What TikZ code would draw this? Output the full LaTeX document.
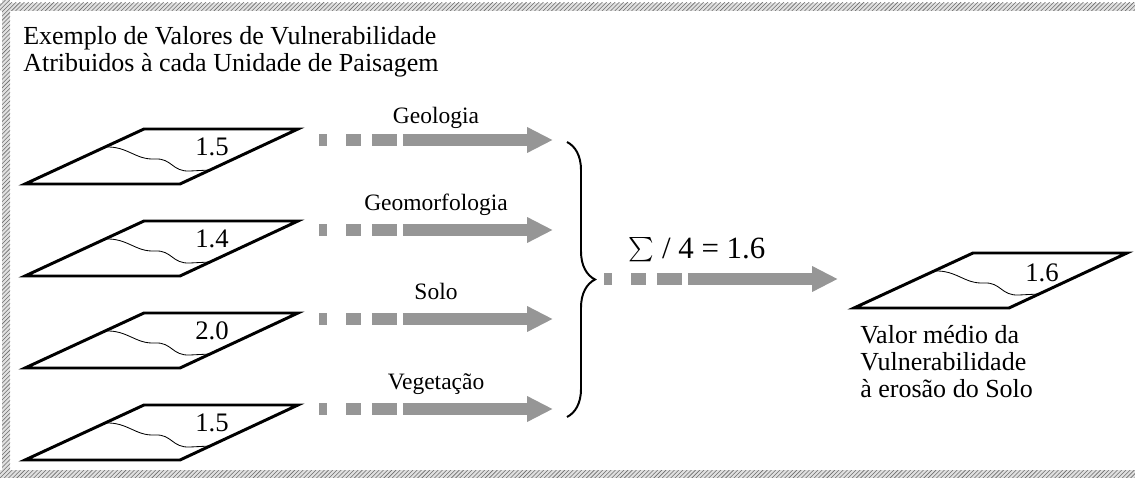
\documentclass[tikz,border=0pt]{standalone}
\usepackage{amsmath}
\usepackage{fontspec}
\setmainfont{Liberation Serif}
\usetikzlibrary{arrows.meta,decorations.pathreplacing,patterns}
\definecolor{cinza}{RGB}{150,150,150}
\definecolor{hachura}{RGB}{110,110,110}

\begin{document}
\begin{tikzpicture}[
  x=0.025cm, y=-0.025cm,
  moldura/.style={fill=black!12, postaction={pattern=north east lines, pattern color=hachura}},
  plano/.style={draw=black, line width=2.1pt},
  rio/.style={draw=black, line width=0.6pt},
  valor/.style={font=\fontsize{19}{22}\selectfont, inner sep=0pt},
  texto/.style={font=\fontsize{18.5}{21}\selectfont, anchor=base west, inner sep=0pt},
  rotulo/.style={font=\fontsize{16.7}{19}\selectfont, anchor=base, yshift=14pt, inner sep=0pt},
  flecha/.style={draw=cinza, line width=8.5pt,
    dash pattern=on 5.7pt off 13.5pt on 10.6pt off 7.8pt on 17.7pt off 4.3pt on 300pt off 0pt,
    -{Triangle[length=18.4pt, width=17pt]}},
  chave/.style={draw=black, line width=1.4pt, decorate, decoration={brace, amplitude=0.7cm}},
  pics/plano/.style={code={
    \draw[plano] (-119,55) -- (0,0) -- (154,0) -- (36,55) -- cycle;
    \draw[rio] (-39,18) .. controls (-16,17) and (-9,31) .. (11,30)
      .. controls (28,29) and (28,43) .. (46,42) -- (66,41);
  }}
]
\useasboundingbox (0,0) rectangle (1135,478);

% hatched frame (top, left, bottom)
\path[moldura] (0,3) rectangle (1135,11);
\path[moldura] (2,0) rectangle (10,478);
\path[moldura] (0,470) rectangle (1135,478);

% title
\node[texto] (titulo1) at (23,45) {Exemplo de Valores de Vulnerabilidade};
\node[texto] (titulo2) at (23,72) {Atribuidos à cada Unidade de Paisagem};

% input layers
\pic at (144,129) {plano};
\pic at (144,221) {plano};
\pic at (144,313) {plano};
\pic at (144,405) {plano};
\node[valor] (v1) at (212,147) {1.5};
\node[valor] (v2) at (212,239) {1.4};
\node[valor] (v3) at (212,331) {2.0};
\node[valor] (v4) at (212,423) {1.5};

% arrows towards the sum
\coordinate (s1) at (319,140);
\coordinate (e1) at (553,140);
\coordinate (s2) at (319,230);
\coordinate (e2) at (553,230);
\coordinate (s3) at (319,319);
\coordinate (e3) at (553,319);
\coordinate (s4) at (319,409);
\coordinate (e4) at (553,409);
\draw[flecha] (s1) -- node[rotulo, yshift=-2pt] {Geologia} (e1);
\draw[flecha] (s2) -- node[rotulo] {Geomorfologia} (e2);
\draw[flecha] (s3) -- node[rotulo] {Solo} (e3);
\draw[flecha] (s4) -- node[rotulo] {Vegetação} (e4);

% brace and mean
\coordinate (c1) at (567,142);
\coordinate (c2) at (567,417);
\draw[chave] (c1) -- (c2);
\coordinate (sm) at (604,279);
\coordinate (em) at (838,279);
\draw[flecha] (sm) -- (em);
\node[font=\fontsize{22}{26}\selectfont, anchor=base, inner sep=0pt] (soma) at (697,259)
  {\raisebox{2pt}{\fontsize{19}{22}\selectfont$\sum$} / 4 = 1.6};

% resulting layer
\pic at (973,253) {plano};
\node[valor] (vm) at (1042,273) {1.6};
\node[texto] (leg1) at (860,343) {Valor médio da};
\node[texto] (leg2) at (860,370) {Vulnerabilidade};
\node[texto] (leg3) at (860,397) {à erosão do Solo};
\end{tikzpicture}
\end{document}
